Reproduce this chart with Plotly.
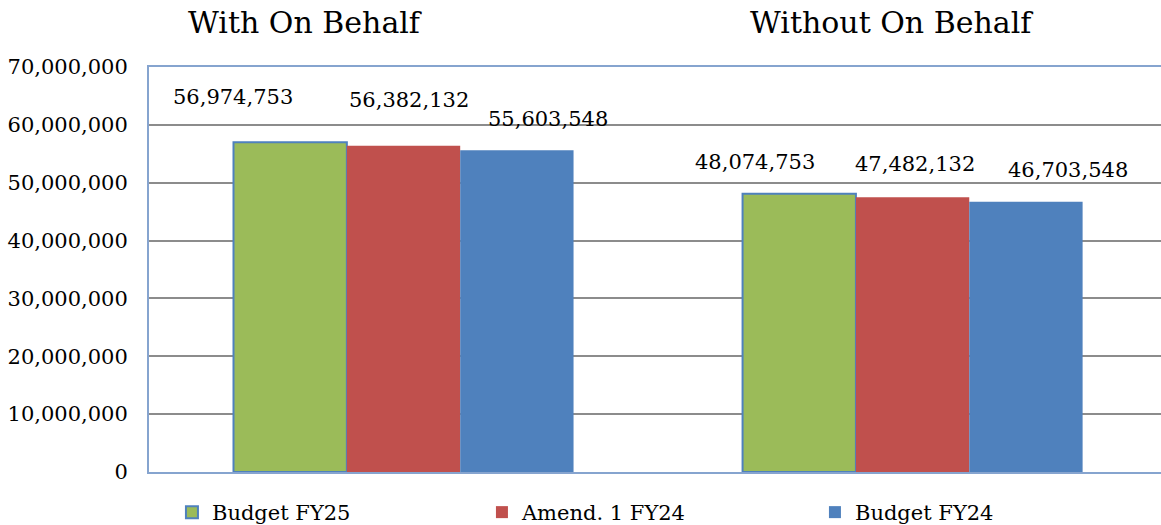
import plotly.graph_objects as go

groups = ["With On Behalf", "Without On Behalf"]
series_names = ["Budget FY25", "Amend. 1 FY24", "Budget FY24"]
budget_fy25 = [56974753, 48074753]
amend1_fy24 = [56382132, 47482132]
budget_fy24 = [55603548, 46703548]
series_values = [budget_fy25, amend1_fy24, budget_fy24]
y_ticks = [0, 10000000, 20000000, 30000000, 40000000, 50000000, 60000000, 70000000]

colors = ["#9BBB59", "#C0504D", "#4F81BD"]
line_colors = ["#4F81BD", "rgba(0,0,0,0)", "rgba(0,0,0,0)"]
line_widths = [2, 0, 0]
legend_widths = [265, 288, 200]
FONT = "DejaVu Serif"

BARGAP = 0.332
barw = (1 - BARGAP) / 3

fig = go.Figure()
xs = list(range(len(groups)))
for name, vals, c, lc, lw, lgw in zip(series_names, series_values, colors, line_colors, line_widths, legend_widths):
    fig.add_trace(go.Bar(x=xs, y=vals, name=name, legendwidth=lgw,
                         marker=dict(color=c, line=dict(color=lc, width=lw))))

# data label placement offsets (px) relative to bar center and bar top
label_dx = [[-57, 5, 31], [-44, 2, 42]]
label_dy = [[45, 46, 31], [32, 33, 32]]
annotations = []
for gi in range(len(groups)):
    for si, vals in enumerate(series_values):
        annotations.append(dict(
            x=gi + (si - 1) * barw, y=vals[gi], xref="x", yref="y",
            text=f"{vals[gi]:,}", showarrow=False,
            xshift=label_dx[gi][si], yshift=label_dy[gi][si],
            font=dict(family=FONT, size=21, color="black"),
            xanchor="center", yanchor="middle"))

title_x = [0.154, 0.734]
for gi, g in enumerate(groups):
    annotations.append(dict(
        x=title_x[gi], y=1 + 44 / 405, xref="paper", yref="paper",
        text=g, showarrow=False, xanchor="center", yanchor="middle",
        font=dict(family=FONT, size=30, color="black")))

fig.update_layout(
    width=1161, height=525,
    margin=dict(l=149, r=0, t=67, b=53, autoexpand=False),
    paper_bgcolor="white", plot_bgcolor="white",
    barmode="group", bargap=BARGAP, bargroupgap=0,
    font=dict(family=FONT, size=21, color="black"),
    showlegend=True,
    legend=dict(orientation="h", xref="container", yref="container",
                x=0.1481, y=0.0629, xanchor="left", yanchor="top",
                font=dict(family=FONT, size=21, color="black"),
                itemclick=False, itemdoubleclick=False, traceorder="normal",
                bgcolor="rgba(0,0,0,0)"),
    annotations=annotations,
)
fig.update_xaxes(range=[-0.5, 1.488], showticklabels=False, showgrid=False,
                 showline=True, linecolor="#86A4CF", linewidth=2, mirror=True,
                 zeroline=False, fixedrange=True, automargin=False)
fig.update_yaxes(range=[0, 70000000], tickvals=y_ticks, tickformat=",d",
                 showgrid=True, gridcolor="#8C8C8C", gridwidth=1.5,
                 showline=True, linecolor="#86A4CF", linewidth=2,
                 zeroline=False, ticks="", ticklabelstandoff=15,
                 tickfont=dict(family=FONT, size=21, color="black"),
                 fixedrange=True, automargin=False)

fig.write_html("out.html", config={"displayModeBar": False},
               post_script="document.body.style.margin='0';document.body.style.overflow='hidden';")
